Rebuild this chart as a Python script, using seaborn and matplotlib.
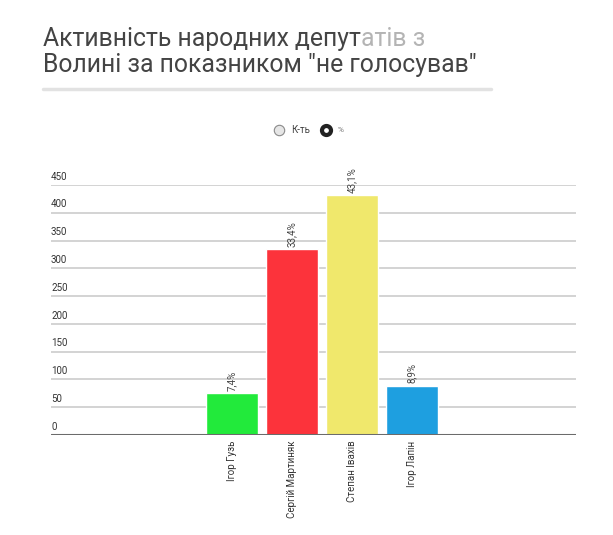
import matplotlib
matplotlib.use("Agg")
import matplotlib.pyplot as plt
import matplotlib.transforms as mtransforms
import pandas as pd
import seaborn as sns

# data
deputies = ["Ігор Гузь", "Сергій Мартиняк", "Степан Івахів", "Ігор Лапін"]
counts = [75, 335, 432, 89]
shares = ["7,4%", "33,4%", "43,1%", "8,9%"]
colors = ["#22ea3b", "#fc333b", "#f0e86c", "#1e9fe0"]
yticks = [0, 50, 100, 150, 200, 250, 300, 350, 400, 450]

sns.set_style("white")
plt.rcParams["font.family"] = ["Roboto", "DejaVu Sans"]

df = pd.DataFrame({"deputy": deputies, "count": counts})

fig = plt.figure(figsize=(6.13, 5.35), dpi=100)
ax = fig.add_axes([51 / 613, 100 / 535, 525 / 613, 250 / 535])

sns.barplot(data=df, x="deputy", y="count", hue="deputy", palette=colors,
            saturation=1, width=0.867, legend=False, ax=ax, zorder=3)

ax.set_ylim(0, 450)
ax.set_xlim(-3.017, 5.733)
for s in ax.spines.values():
    s.set_visible(False)
ax.set_xlabel("")
ax.set_ylabel("")
ax.set_yticks([])
ax.tick_params(axis="x", length=0, pad=4)
ax.set_xticks(range(len(deputies)))
ax.set_xticklabels(deputies, rotation=90, fontsize=7, color="#333333", va="top")

# gridlines with labels sitting on top of them
trans = mtransforms.blended_transform_factory(ax.transAxes, ax.transData)
for t in yticks:
    if t == 0:
        ax.axhline(t, color="#6b6b6b", lw=2.2, zorder=4)
    else:
        ax.axhline(t, color="#cccccc", lw=1.2, zorder=1)
    ax.text(0.0, t + 6, str(t), transform=trans, fontsize=7,
            color="#333333", ha="left", va="bottom")

# percentage labels on the bars
for i, (c, lbl) in enumerate(zip(counts, shares)):
    ax.text(i, c + 4, lbl, rotation=90, ha="center", va="bottom",
            fontsize=7, color="#444444", clip_on=False)

# title block (the end of the first line is faded in the original)
fig.canvas.draw()
renderer = fig.canvas.get_renderer()
tx, ty = 43 / 613, 1 - 27 / 535
part1 = fig.text(tx, ty, "Активність народних депут", fontsize=17.8,
                 color="#444444", ha="left", va="top")
w = part1.get_window_extent(renderer).x1 / fig.bbox.width
fig.text(w, ty, "атів з", fontsize=17.8, color="#b4b4b4", ha="left", va="top")
fig.text(tx, 1 - 53 / 535, "Волині за показником \"не голосував\"",
         fontsize=17.8, color="#444444", ha="left", va="top")
fig.add_artist(plt.Line2D([43 / 613, 491 / 613], [1 - 89 / 535, 1 - 89 / 535],
                          color="#e2e2e2", lw=2.5))

# radio-style switch
ly = 1 - 130 / 535
fig.add_artist(plt.Line2D([278.5 / 613], [ly], marker="o", markersize=7.5,
                          markerfacecolor="#e6e6e6", markeredgecolor="#8a8a8a",
                          markeredgewidth=0.8))
fig.text(291 / 613, ly, "К-ть", fontsize=7, color="#444444", va="center")
fig.add_artist(plt.Line2D([326 / 613], [ly], marker="o", markersize=6.5,
                          markerfacecolor="white", markeredgecolor="#222222",
                          markeredgewidth=3))
fig.text(338 / 613, ly, "%", fontsize=6, color="#777777", va="center")

fig.savefig("out.png", dpi=100)
